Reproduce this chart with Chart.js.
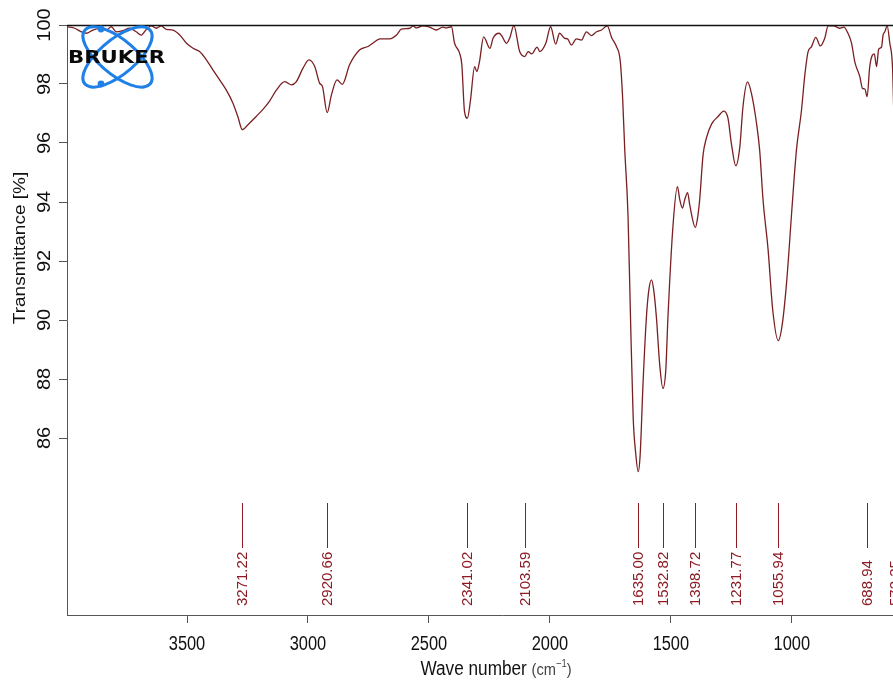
<!DOCTYPE html>
<html>
<head>
<meta charset="utf-8">
<title>IR spectrum</title>
<script src="https://cdn.jsdelivr.net/npm/chart.js@4.4.1/dist/chart.umd.min.js"></script>
<style>
  html, body { margin: 0; padding: 0; overflow: hidden; background: #fff; width: 893px; height: 681px; }
  #wrap { position: relative; width: 960px; height: 681px; }
  canvas { display: block; }
</style>
</head>
<body>
<div id="wrap"><canvas id="ir" width="960" height="681"></canvas></div>
<script>
// Spectrum: wave number (cm-1) and transmittance (%)
const waveNumbers = [
  3993, 3964, 3937, 3916, 3889, 3861, 3833, 3813, 3792, 3766, 3737, 3710, 3689, 3668, 3648, 3627,
  3606, 3585, 3558, 3530, 3502, 3475, 3448, 3420, 3393, 3365, 3338, 3310, 3290, 3271.22, 3248, 3214,
  3187, 3158, 3130, 3096, 3068, 3048, 3021, 2996, 2972, 2952, 2940, 2920.66, 2903, 2880, 2858, 2828,
  2787, 2752, 2732, 2703, 2662, 2634, 2614, 2579, 2566, 2551, 2526, 2497, 2469, 2443, 2431, 2407,
  2394, 2373, 2364, 2353, 2341.02, 2329, 2311, 2302, 2291, 2274, 2248, 2235, 2210, 2199, 2179, 2166,
  2149, 2125, 2103.59, 2090, 2075, 2053, 2042, 2017, 1997, 1976, 1960, 1939, 1927, 1911, 1891, 1870,
  1849, 1829, 1807, 1787, 1763, 1745, 1725, 1709, 1699, 1691, 1677, 1667, 1656, 1645, 1635.00, 1627,
  1615, 1601, 1591, 1580, 1571, 1560, 1546, 1532.82, 1521, 1512, 1491, 1473, 1463, 1452, 1443, 1431,
  1422, 1398.72, 1391, 1381, 1367, 1353, 1332, 1306, 1281, 1264, 1250, 1231.77, 1215, 1202, 1183, 1167,
  1146, 1133, 1119, 1098, 1079, 1055.94, 1040, 1022, 997, 981, 960, 947, 933, 919, 901, 882,
  864, 850, 827, 814, 802, 785, 768, 753, 740, 719, 708, 698, 688.94, 678, 667, 659,
  650, 641, 629, 623, 616, 606, 595, 584, 578, 572.35, 565, 556
];
const transmittance = [
  99.94, 99.89, 99.77, 99.72, 99.83, 99.88, 99.83, 99.94, 99.77, 99.81, 99.89, 99.77, 99.66, 99.85, 99.97, 99.89,
  99.97, 99.85, 99.83, 99.66, 99.38, 99.21, 99.10, 98.82, 98.48, 98.14, 97.80, 97.35, 96.90, 96.45, 96.62, 96.90,
  97.13, 97.43, 97.80, 98.08, 97.97, 98.08, 98.53, 98.82, 98.59, 98.03, 97.91, 97.03, 97.63, 98.14, 97.99, 98.65,
  99.15, 99.27, 99.38, 99.53, 99.53, 99.66, 99.86, 99.89, 99.97, 99.90, 99.97, 99.93, 99.83, 99.93, 99.90, 99.94,
  99.38, 99.04, 98.65, 97.07, 96.84, 97.40, 98.59, 98.42, 98.76, 99.60, 99.21, 99.55, 99.72, 99.63, 99.38, 99.56,
  99.98, 99.10, 98.93, 99.10, 99.02, 99.25, 99.10, 99.38, 99.94, 99.35, 99.72, 99.55, 99.53, 99.32, 99.53, 99.49,
  99.77, 99.64, 99.77, 99.83, 99.97, 99.58, 99.27, 98.76, 97.46, 95.84, 93.51, 90.13, 86.74, 85.45, 84.86, 85.42,
  87.86, 90.11, 91.02, 91.36, 91.02, 90.11, 88.47, 87.68, 88.31, 90.11, 93.22, 94.52, 94.07, 93.79, 94.07, 94.32,
  93.90, 93.14, 93.39, 94.07, 95.59, 96.17, 96.64, 96.89, 97.08, 96.84, 95.99, 95.23, 95.87, 97.23, 98.07, 97.68,
  96.67, 95.76, 94.07, 92.37, 90.34, 89.30, 89.83, 91.24, 94.07, 95.76, 97.12, 98.25, 99.09, 99.26, 99.58, 99.29,
  99.55, 99.97, 99.97, 99.93, 99.89, 99.93, 99.72, 99.38, 98.76, 98.25, 97.85, 97.83, 97.57, 98.59, 98.98, 99.02,
  98.59, 99.18, 99.26, 99.66, 99.76, 99.97, 99.38, 98.59, 96.90, 95.60, 96.80, 98.00
];

// Picked band positions (cm-1)
const peakPositions = [3271.22, 2920.66, 2341.02, 2103.59, 1635.00, 1532.82, 1398.72, 1231.77, 1055.94, 688.94, 572.35];

// Axis ticks
const xTickValues = [3500, 3000, 2500, 2000, 1500, 1000, 500];
const yTickValues = [86, 88, 90, 92, 94, 96, 98, 100];

const FONT = '"Liberation Sans", Arial, Helvetica, sans-serif';
const CURVE = '#7a1f22';
const PEAK = '#8c1b24';

const decorations = {
  id: 'decorations',
  afterDraw(chart) {
    const ctx = chart.ctx;
    const xs = chart.scales.x, ys = chart.scales.y, a = chart.chartArea;

    // top frame line
    ctx.save();
    ctx.strokeStyle = '#111';
    ctx.lineWidth = 1.4;
    ctx.beginPath();
    ctx.moveTo(a.left, a.top + 0.5);
    ctx.lineTo(chart.width, a.top + 0.5);
    ctx.stroke();
    ctx.restore();

    // y tick labels (rotated)
    ctx.save();
    ctx.fillStyle = '#111';
    ctx.font = '20px ' + FONT;
    ctx.textAlign = 'center';
    ctx.textBaseline = 'alphabetic';
    yTickValues.forEach(v => {
      const py = ys.getPixelForValue(v);
      ctx.save();
      ctx.translate(a.left - 17, py);
      ctx.rotate(-Math.PI / 2);
      ctx.scale(1, 0.93);
      ctx.fillText(String(v), 0, 0);
      ctx.restore();
    });
    ctx.restore();

    // y title
    ctx.save();
    ctx.fillStyle = '#111';
    ctx.font = '19px ' + FONT;
    ctx.textAlign = 'center';
    ctx.textBaseline = 'alphabetic';
    ctx.translate(25, 248);
    ctx.rotate(-Math.PI / 2);
    ctx.scale(1, 0.86);
    ctx.fillText('Transmittance [%]', 0, 0);
    ctx.restore();

    // x tick labels (narrow)
    ctx.save();
    ctx.fillStyle = '#111';
    ctx.font = '20px ' + FONT;
    ctx.textAlign = 'center';
    ctx.textBaseline = 'alphabetic';
    xTickValues.forEach(v => {
      const px = xs.getPixelForValue(v);
      ctx.save();
      ctx.translate(px, a.bottom + 35);
      ctx.scale(0.82, 1);
      ctx.fillText(String(v), 0, 0);
      ctx.restore();
    });
    ctx.restore();

    // x title: "Wave number (cm-1)"
    ctx.save();
    const sx = 0.86;
    const parts = [
      { t: 'Wave number ', f: '20px ' + FONT, dy: 0, c: '#111' },
      { t: '(cm', f: '17px ' + FONT, dy: 0, c: '#444' },
      { t: '\u22121', f: '11px ' + FONT, dy: -8, c: '#444' },
      { t: ')', f: '17px ' + FONT, dy: 0, c: '#444' }
    ];
    let total = 0;
    parts.forEach(p => { ctx.font = p.f; p.w = ctx.measureText(p.t).width * sx; total += p.w; });
    let cx = 496 - total / 2;
    const base = a.bottom + 60;
    ctx.textAlign = 'left';
    ctx.textBaseline = 'alphabetic';
    parts.forEach(p => {
      ctx.save();
      ctx.font = p.f;
      ctx.fillStyle = p.c;
      ctx.translate(cx, base + p.dy);
      ctx.scale(sx, 1);
      ctx.fillText(p.t, 0, 0);
      ctx.restore();
      cx += p.w;
    });
    ctx.restore();

    // peak markers and labels
    ctx.save();
    ctx.strokeStyle = PEAK;
    ctx.fillStyle = PEAK;
    ctx.lineWidth = 1;
    ctx.font = '15px ' + FONT;
    ctx.textAlign = 'left';
    ctx.textBaseline = 'middle';
    peakPositions.forEach(p => {
      const px = Math.round(xs.getPixelForValue(p)) + 0.5;
      ctx.beginPath();
      ctx.moveTo(px, a.bottom - 112);
      ctx.lineTo(px, a.bottom - 67);
      ctx.stroke();
      ctx.save();
      ctx.translate(px + 0.5, a.bottom - 9);
      ctx.rotate(-Math.PI / 2);
      ctx.fillText(p.toFixed(2), 0, 0);
      ctx.restore();
    });
    ctx.restore();

    // instrument logo: two crossed orbits with electrons and the word mark
    ctx.save();
    const lx = a.left + 50.5, ly = a.top + 32;
    ctx.strokeStyle = '#1f80e6';
    ctx.fillStyle = '#1f80e6';
    [45, -45].forEach(d => {
      ctx.save();
      ctx.translate(lx, ly);
      ctx.scale(1, 0.87);
      ctx.beginPath();
      ctx.ellipse(0, 0, 45, 19, d * Math.PI / 180, 0, Math.PI * 2);
      ctx.restore();
      ctx.lineWidth = 3;
      ctx.stroke();
    });
    [[lx - 16.5, ly - 28], [lx - 16.5, ly + 27]].forEach(([dx, dy]) => {
      ctx.beginPath();
      ctx.arc(dx, dy, 3.4, 0, Math.PI * 2);
      ctx.fill();
    });
    ctx.fillStyle = '#0a0a0a';
    ctx.font = 'bold 18px "DejaVu Sans", ' + FONT;
    ctx.textAlign = 'left';
    ctx.textBaseline = 'alphabetic';
    const word = 'BRUKER';
    const ww = ctx.measureText(word).width;
    ctx.translate(a.left + 1, ly + 6);
    ctx.scale(97 / ww, 1);
    ctx.fillText(word, 0, 0);
    ctx.restore();
  }
};

const points = waveNumbers.map((w, i) => ({ x: w, y: transmittance[i] }));

new Chart(document.getElementById('ir'), {
  type: 'line',
  data: {
    datasets: [{
      data: points,
      borderColor: CURVE,
      borderWidth: 1.3,
      pointRadius: 0,
      fill: false,
      cubicInterpolationMode: 'monotone'
    }]
  },
  options: {
    responsive: false,
    animation: false,
    devicePixelRatio: 1,
    layout: { padding: { top: 25, right: 23, left: 0, bottom: 0 } },
    plugins: { legend: { display: false }, tooltip: { enabled: false }, title: { display: false } },
    scales: {
      x: {
        type: 'linear',
        reverse: true,
        min: 400,
        max: 3996,
        afterBuildTicks: s => { s.ticks = xTickValues.map(v => ({ value: v })); },
        afterFit: s => { s.height = 66; },
        ticks: { display: false },
        grid: { display: true, drawOnChartArea: false, drawTicks: true, tickLength: 8, color: '#555', lineWidth: 1 },
        border: { display: true, color: '#555', width: 1 }
      },
      y: {
        type: 'linear',
        min: 80,
        max: 100,
        afterBuildTicks: s => { s.ticks = yTickValues.map(v => ({ value: v })); },
        afterFit: s => { s.width = 67; },
        ticks: { display: false },
        grid: { display: true, drawOnChartArea: false, drawTicks: true, tickLength: 8, color: '#555', lineWidth: 1 },
        border: { display: true, color: '#555', width: 1 }
      }
    }
  },
  plugins: [decorations]
});
</script>
</body>
</html>
